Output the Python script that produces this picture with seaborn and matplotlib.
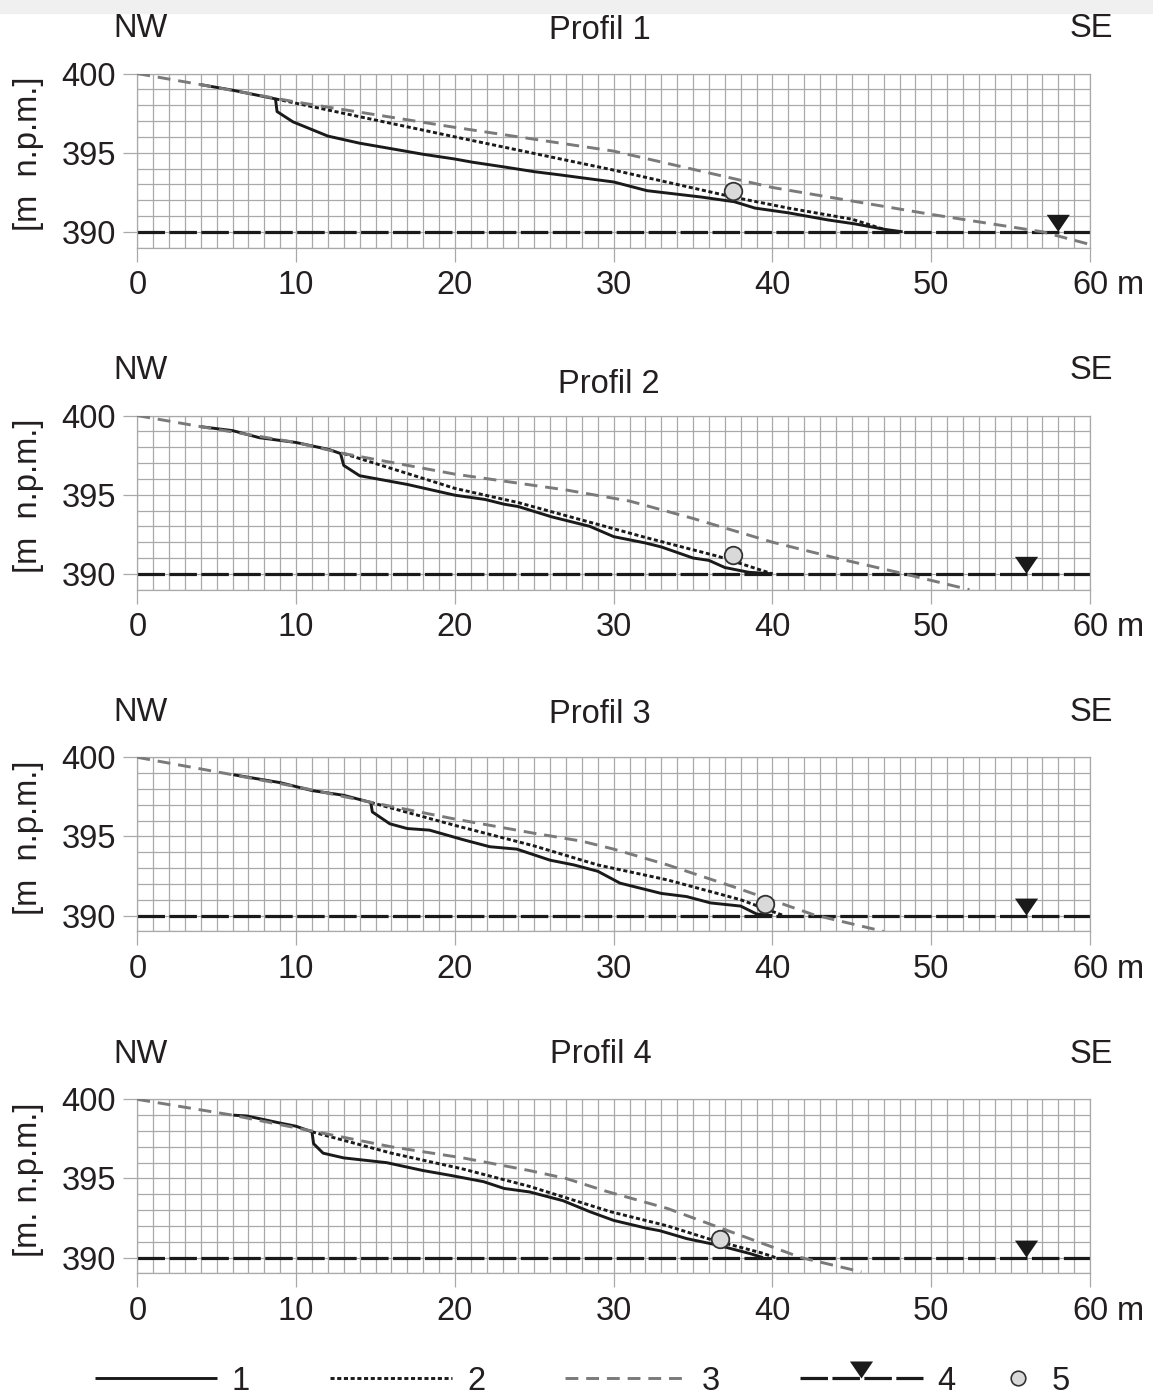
import matplotlib

matplotlib.use("Agg")
import matplotlib.pyplot as plt
import seaborn as sns
from matplotlib.lines import Line2D
from matplotlib.markers import MarkerStyle
from matplotlib.patches import Rectangle


OUTPUT_PATH = "out.png"

COLOR_TEXT = "#231f20"
COLOR_LINE = "#1a1a1a"
COLOR_GRAY_LINE = "#7a7a7a"
COLOR_GRID = "#a9a9a9"
COLOR_POINT = "#d9d9d9"
COLOR_TOPBAR = "#f0f0f0"

FONT_SIZE = 23.5

# ---- data (x in m, y in m n.p.m.) ----
PROFILE_NAMES = ["Profil 1", "Profil 2", "Profil 3", "Profil 4"]
Y_LABELS = ["[m  n.p.m.]", "[m  n.p.m.]", "[m  n.p.m.]", "[m. n.p.m.]"]
X_TICKS = [0, 10, 20, 30, 40, 50, 60]
X_TICK_LABELS = ["0", "10", "20", "30", "40", "50", "60"]
Y_TICKS = [390, 395, 400]

# line 1 (solid)
P1_L1_X = [4.0, 6.0, 8.7, 8.8, 9.8, 12.0, 14.0, 16.3, 18.0, 20.0, 21.1, 23.1, 25.0,
           26.6, 28.1, 30.0, 32.1, 35.5, 37.6, 38.9, 41.0, 43.5, 45.2, 47.1, 48.2]
P1_L1_Y = [399.3, 398.95, 398.4, 397.6, 396.95, 396.05, 395.6, 395.2, 394.9, 394.6,
           394.4, 394.1, 393.8, 393.6, 393.4, 393.15, 392.6, 392.2, 391.9, 391.5,
           391.2, 390.75, 390.5, 390.15, 390.0]
P2_L1_X = [4.0, 6.0, 7.7, 10.0, 12.1, 12.8, 13.0, 14.0, 17.0, 20.0, 21.9, 23.1, 24.0,
           26.1, 28.5, 30.0, 32.0, 33.0, 35.0, 36.0, 37.0, 38.5, 40.0]
P2_L1_Y = [399.3, 399.05, 398.6, 398.3, 397.85, 397.6, 396.85, 396.2, 395.65, 394.97,
           394.7, 394.4, 394.25, 393.6, 393.0, 392.35, 391.95, 391.7, 391.0, 390.85,
           390.4, 390.1, 390.0]
P3_L1_X = [6.05, 9.0, 11.0, 13.0, 14.7, 14.8, 15.9, 17.0, 18.4, 20.5, 22.2, 23.9, 26.0,
           27.5, 29.0, 30.4, 33.0, 34.6, 36.1, 38.0, 39.0, 40.0]
P3_L1_Y = [398.9, 398.4, 397.9, 397.6, 397.15, 396.55, 395.8, 395.5, 395.4, 394.8,
           394.35, 394.2, 393.5, 393.2, 392.8, 392.05, 391.4, 391.2, 390.8, 390.6,
           390.1, 390.0]
P4_L1_X = [6.05, 6.9, 9.0, 10.0, 11.0, 11.1, 11.7, 13.0, 15.7, 18.0, 19.7, 21.8, 23.1,
           24.7, 26.8, 28.5, 30.0, 32.1, 32.9, 34.6, 36.5, 38.6, 39.4]
P4_L1_Y = [399.0, 398.95, 398.5, 398.3, 397.95, 397.2, 396.6, 396.3, 396.0, 395.5,
           395.2, 394.8, 394.37, 394.15, 393.6, 392.9, 392.35, 391.85, 391.7, 391.2,
           390.8, 390.25, 390.0]

# line 2 (dotted)
P1_L2_X = [8.7, 20.0, 30.0, 37.5, 41.0, 45.0, 47.5]
P1_L2_Y = [398.4, 396.0, 393.9, 392.2, 391.5, 390.8, 390.0]
P2_L2_X = [13.0, 20.0, 24.0, 28.0, 32.0, 36.6, 40.0]
P2_L2_Y = [397.6, 395.4, 394.5, 393.4, 392.3, 391.1, 390.0]
P3_L2_X = [14.7, 20.0, 25.0, 29.0, 33.4, 38.0, 40.7]
P3_L2_Y = [397.15, 395.7, 394.4, 393.2, 392.25, 391.0, 390.0]
P4_L2_X = [11.0, 16.0, 20.5, 24.7, 29.8, 33.4, 36.1, 39.3, 40.2]
P4_L2_Y = [397.95, 396.6, 395.6, 394.5, 392.9, 392.0, 391.15, 390.3, 390.0]

# line 3 (grey dashed)
P1_L3_X = [0, 4, 10, 20, 30, 40, 50, 57, 60]
P1_L3_Y = [400.0, 399.3, 398.2, 396.6, 395.1, 392.8, 391.1, 390.0, 389.2]
P2_L3_X = [0, 4, 10, 13, 20, 27, 31, 35, 40, 44, 48.3, 52.4]
P2_L3_Y = [400.0, 399.3, 398.3, 397.6, 396.3, 395.3, 394.6, 393.5, 392.0, 391.0, 390.0, 389.0]
P3_L3_X = [0, 6, 10, 15, 20, 25, 28, 30, 33.4, 37.6, 42.6, 47]
P3_L3_Y = [400.0, 398.9, 398.15, 397.1, 396.1, 395.2, 394.7, 394.2, 393.2, 391.8, 390.05, 389.0]
P4_L3_X = [0, 6, 11, 16, 20.5, 24.7, 27, 29.5, 33.4, 37.6, 41.8, 45.6]
P4_L3_Y = [400.0, 399.0, 398.0, 397.0, 396.3, 395.5, 395.0, 394.2, 393.1, 391.55, 390.0, 389.1]

# line 4 (water level) and its triangle, point 5
WATER_LEVEL = [390.0, 390.0, 390.0, 390.0]
TRIANGLE_X = [58.0, 56.0, 56.0, 56.0]
POINT_X = [37.5, 37.5, 39.5, 36.7]
POINT_Y = [392.6, 391.2, 390.75, 391.2]

L1_X = [P1_L1_X, P2_L1_X, P3_L1_X, P4_L1_X]
L1_Y = [P1_L1_Y, P2_L1_Y, P3_L1_Y, P4_L1_Y]
L2_X = [P1_L2_X, P2_L2_X, P3_L2_X, P4_L2_X]
L2_Y = [P1_L2_Y, P2_L2_Y, P3_L2_Y, P4_L2_Y]
L3_X = [P1_L3_X, P2_L3_X, P3_L3_X, P4_L3_X]
L3_Y = [P1_L3_Y, P2_L3_Y, P3_L3_Y, P4_L3_Y]

# ---- layout (figure fractions / points) ----
AX_LEFT = 0.1191
AX_WIDTH = 0.8263
AX_HEIGHT = 0.1247
AX_BOTTOMS = [0.8226, 0.5776, 0.3328, 0.0878]
SIDE_OFFSETS = [26.3, 26.3, 26.1, 26.1]
TITLE_OFFSETS = [24.8, 16.2, 24.7, 26.1]
TITLE_X = [29.14, 29.7, 29.14, 29.2]

STYLE_SOLID = dict(color=COLOR_LINE, linewidth=2.1)
STYLE_DOTTED = dict(color=COLOR_LINE, linewidth=2.1, linestyle=(0, (1.4, 0.9)))
STYLE_GRAY = dict(color=COLOR_GRAY_LINE, linewidth=2.1, linestyle=(0, (4.4, 2.7)))
STYLE_WATER = dict(color=COLOR_LINE, linewidth=2.3, linestyle=(0, (8.6, 1.4)))

# triangle with its tip at the reference point
TRIANGLE = MarkerStyle([(-0.68, 1.0), (0.68, 1.0), (0.0, 0.0), (-0.68, 1.0)])
TICK_LEN = 10
X_PAD = 6.0


def draw_profile(ax, i):
    ax.set_xlim(0, 60)
    ax.set_ylim(389, 400)
    ax.set_xticks(X_TICKS)
    ax.set_xticklabels(X_TICK_LABELS)
    ax.set_xticks(range(0, 61), minor=True)
    ax.set_yticks(Y_TICKS)
    ax.set_yticks(range(389, 401), minor=True)

    ax.grid(which="both", color=COLOR_GRID, linewidth=0.9)
    ax.set_axisbelow(True)
    for spine in ax.spines.values():
        spine.set_visible(True)
        spine.set_color(COLOR_GRID)
        spine.set_linewidth(0.9)
    ax.tick_params(which="major", length=TICK_LEN, width=0.9, color=COLOR_GRID,
                   labelsize=FONT_SIZE, labelcolor=COLOR_TEXT, direction="out")
    ax.tick_params(axis="x", which="major", pad=X_PAD, bottom=True)
    ax.tick_params(axis="y", which="major", pad=5.4, left=True)
    ax.tick_params(which="minor", length=0)

    ax.axhline(WATER_LEVEL[i], zorder=2, **STYLE_WATER)
    sns.lineplot(x=L1_X[i], y=L1_Y[i], ax=ax, sort=False, errorbar=None, zorder=3, **STYLE_SOLID)
    sns.lineplot(x=L2_X[i], y=L2_Y[i], ax=ax, sort=False, errorbar=None, zorder=3, **STYLE_DOTTED)
    sns.lineplot(x=L3_X[i], y=L3_Y[i], ax=ax, sort=False, errorbar=None, zorder=4, **STYLE_GRAY)
    sns.scatterplot(x=[POINT_X[i]], y=[POINT_Y[i]], ax=ax, s=160, color=COLOR_POINT,
                    edgecolor="#333333", linewidth=1.3, zorder=5)
    sns.scatterplot(x=[TRIANGLE_X[i]], y=[WATER_LEVEL[i]], ax=ax, marker=TRIANGLE, s=24.5 ** 2,
                    color=COLOR_LINE, edgecolor="none", linewidth=0, zorder=6)

    ax.set_xlabel("")
    ax.set_ylabel("")
    ax.text(-0.1147, 0.54, Y_LABELS[i], transform=ax.transAxes, rotation=90,
            ha="center", va="center", fontsize=FONT_SIZE, color=COLOR_TEXT)

    blend = ("data", "axes fraction")
    ax.annotate("NW", xy=(0, 1), xycoords=blend, xytext=(2, SIDE_OFFSETS[i]),
                textcoords="offset points", ha="center", va="baseline",
                fontsize=FONT_SIZE, color=COLOR_TEXT)
    ax.annotate("SE", xy=(60, 1), xycoords=blend, xytext=(1, SIDE_OFFSETS[i]),
                textcoords="offset points", ha="center", va="baseline",
                fontsize=FONT_SIZE, color=COLOR_TEXT)
    ax.annotate(PROFILE_NAMES[i], xy=(TITLE_X[i], 1), xycoords=blend, xytext=(0, TITLE_OFFSETS[i]),
                textcoords="offset points", ha="center", va="baseline",
                fontsize=FONT_SIZE, color=COLOR_TEXT)
    # unit after the last tick label
    ax.annotate("m", xy=(60, 0), xycoords=blend, xytext=(0.834 * FONT_SIZE, -(TICK_LEN + X_PAD)),
                textcoords="offset points", ha="left", va="top",
                fontsize=FONT_SIZE, color=COLOR_TEXT)


def main():
    sns.set_theme(style="white")
    plt.rcParams["font.family"] = ["Liberation Sans", "DejaVu Sans"]
    plt.rcParams["lines.solid_capstyle"] = "butt"
    plt.rcParams["lines.dash_capstyle"] = "butt"

    fig = plt.figure(figsize=(11.53, 13.96), dpi=100, facecolor="white")
    fig.patches.append(Rectangle((0, 1 - 13 / 1396), 1, 13 / 1396, transform=fig.transFigure,
                                 color=COLOR_TOPBAR, zorder=-1))

    for i, bottom in enumerate(AX_BOTTOMS):
        ax = fig.add_axes([AX_LEFT, bottom, AX_WIDTH, AX_HEIGHT])
        draw_profile(ax, i)

    handles = [
        Line2D([], [], **STYLE_SOLID),
        Line2D([], [], **STYLE_DOTTED),
        Line2D([], [], **STYLE_GRAY),
        Line2D([], [], marker=TRIANGLE, markersize=24.5, markerfacecolor=COLOR_LINE,
               markeredgewidth=0, **STYLE_WATER),
    ]
    fig.legend(handles, ["1", "2", "3", "4"], loc="center left", bbox_to_anchor=(0.082, 0.0105),
               ncol=4, frameon=False, fontsize=FONT_SIZE, handlelength=3.75, handletextpad=0.45,
               columnspacing=2.45, borderpad=0, borderaxespad=0, labelcolor=COLOR_TEXT)
    point = Line2D([], [], linestyle="none", marker="o", markersize=10.5,
                   markerfacecolor=COLOR_POINT, markeredgecolor="#333333", markeredgewidth=1.2)
    fig.legend([point], ["5"], loc="center left", bbox_to_anchor=(0.874, 0.0105),
               frameon=False, fontsize=FONT_SIZE, handlelength=0.6, handletextpad=0.75,
               borderpad=0, borderaxespad=0, labelcolor=COLOR_TEXT)

    fig.savefig(OUTPUT_PATH, dpi=100, facecolor="white")
    plt.close(fig)


if __name__ == "__main__":
    main()
